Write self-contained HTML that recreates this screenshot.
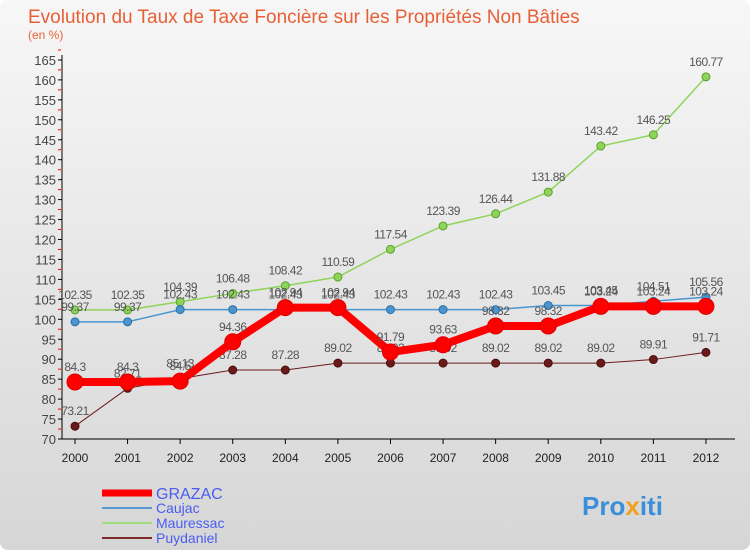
<!DOCTYPE html>
<html><head><meta charset="utf-8"><style>
body{margin:0}
#c{width:750px;height:550px;position:relative;overflow:hidden;border-radius:8px;background:linear-gradient(#f7f7f7,#d6d6d6);font-family:"Liberation Sans",sans-serif}
</style></head><body>
<div id="c">
<svg id="s" width="750" height="550" style="position:absolute;left:0;top:0">
<text x="28" y="23" font-size="19" fill="#e85f36">Evolution du Taux de Taxe Foncière sur les Propriétés Non Bâties</text>
<text x="28" y="39" font-size="12" fill="#e85f36">(en %)</text>
<g id="grid"></g><g id="series"></g>
<g>
<line x1="102" y1="493" x2="152" y2="493" stroke="#f00" stroke-width="7"/>
<text x="156" y="499" font-size="16" fill="#4a5cf0">GRAZAC</text>
<line x1="102" y1="508" x2="152" y2="508" stroke="#5b9bd5" stroke-width="2"/>
<text x="156" y="513" font-size="14" fill="#4a5cf0">Caujac</text>
<line x1="102" y1="523" x2="152" y2="523" stroke="#9de07a" stroke-width="2"/>
<text x="156" y="528" font-size="14" fill="#4a5cf0">Mauressac</text>
<line x1="102" y1="538" x2="152" y2="538" stroke="#7a2a2a" stroke-width="2"/>
<text x="156" y="543" font-size="14" fill="#4a5cf0">Puydaniel</text>
</g>
<text x="582" y="515" font-size="26" font-weight="bold" fill="#3a8fd8">Pro<tspan fill="#f0a020">x</tspan>iti</text>
</svg></div>
<script>
const years=["2000","2001","2002","2003","2004","2005","2006","2007","2008","2009","2010","2011","2012"];
const grazac=[84.3,84.3,84.5,94.36,102.94,102.94,91.79,93.63,98.32,98.32,103.24,103.24,103.24];
const caujac=[99.37,99.37,102.43,102.43,102.43,102.43,102.43,102.43,102.43,103.45,103.45,104.51,105.56];
const mauressac=[102.35,102.35,104.39,106.48,108.42,110.59,117.54,123.39,126.44,131.88,143.42,146.25,160.77];
const puydaniel=[73.21,82.71,85.13,87.28,87.28,89.02,89.02,89.02,89.02,89.02,89.02,89.91,91.71];
const yTicks=[70,75,80,85,90,95,100,105,110,115,120,125,130,135,140,145,150,155,160,165];
const NS="http://www.w3.org/2000/svg";
const X=i=>75+i*52.58, Y=v=>439-(v-70)*3.99;
function mk(t,a,p){const e=document.createElementNS(NS,t);for(const k in a)e.setAttribute(k,a[k]);p.appendChild(e);return e;}
const g=document.getElementById('grid');
let ax=mk('line',{x1:62,y1:55,x2:62,y2:439,stroke:'#000'},g);

let bx=mk('line',{x1:62,y1:439,x2:735,y2:439,stroke:'#000'},g);

yTicks.forEach(v=>{
 mk('line',{x1:58,y1:Y(v),x2:62,y2:Y(v),stroke:'#000'},g);
 mk('line',{x1:58,y1:Y(v+2.5),x2:61,y2:Y(v+2.5),stroke:'#f00'},g);
 const t=mk('text',{x:56,y:Y(v)+5,'font-size':13,'text-anchor':'end',fill:'#444'},g);t.textContent=v;
 
});
years.forEach((y,i)=>{
 mk('line',{x1:X(i),y1:439,x2:X(i),y2:444,stroke:'#000'},g);
 const t=mk('text',{x:X(i),y:462,'font-size':12,'text-anchor':'middle',fill:'#222'},g);t.textContent=y;
 
});
const sg=document.getElementById('series');
function draw(name,arr,col,w,r,dark){
 const grp=mk('g',{},sg);
 
 mk('polyline',{points:arr.map((v,i)=>X(i)+','+Y(v)).join(' '),fill:'none',stroke:col,'stroke-width':w,'stroke-linejoin':'round'},grp);
 arr.forEach((v,i)=>{
  const c=mk('circle',{cx:X(i),cy:Y(v),r:r,fill:col,stroke:dark,'stroke-width':1},grp);
  
  const t=mk('text',{x:X(i),y:Y(v)-11,'font-size':12,'text-anchor':'middle',fill:'#555','letter-spacing':'-0.5'},grp);t.textContent=v;
  
 });
}
draw('puydaniel',puydaniel,'#6b1a1a',1,4,'#4a0f0f');
draw('mauressac',mauressac,'#8fd45a',1.5,4,'#5aa030');
draw('caujac',caujac,'#4a95d0',1.5,4,'#2a70a8');
draw('grazac',grazac,'#f00',8,8,'#d00');
</script></body></html>
